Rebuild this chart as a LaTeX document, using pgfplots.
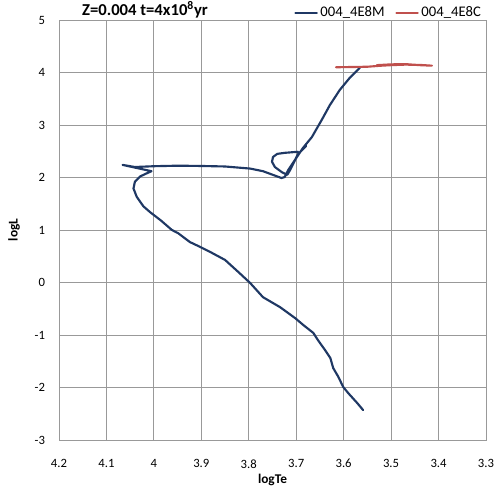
\documentclass[border=0pt]{standalone}
\usepackage{pgfplots}
\pgfplotsset{compat=1.18}
\usepackage{fontspec}
\setmainfont{Carlito}
\definecolor{navy}{HTML}{1F3864}
\definecolor{exred}{HTML}{C0504D}
\begin{document}
\begin{tikzpicture}
\useasboundingbox (-44.25pt,-38.25pt) rectangle (330.75pt,330pt);
\begin{axis}[
 scale only axis, width=320.25pt, height=315pt,
 x dir=reverse, xmin=3.3, xmax=4.2, ymin=-3, ymax=5,
 xtick={3.3,3.4,3.5,3.6,3.7,3.8,3.9,4.0,4.1,4.2},
 ytick={-3,-2,-1,0,1,2,3,4,5},
 grid=major, major grid style={color=black!40, line width=0.6pt},
 axis line style={color=black!40, line width=0.6pt},
 major tick length=0pt,
 tick label style={font=\fontsize{9.5}{11}\selectfont},
 /pgf/number format/assume math mode=true,
 xticklabel style={yshift=-11pt},
 yticklabel style={xshift=-7pt},
 xlabel={\textbf{logTe}}, ylabel={\textbf{logL}},
 xlabel style={at={(axis description cs:0.5,-0.095)}, anchor=center, font=\fontsize{10}{12}\selectfont},
 ylabel style={at={(axis description cs:-0.105,0.5)}, anchor=center, font=\fontsize{10}{12}\selectfont},
 unbounded coords=jump,
 legend style={at={(axis description cs:0.995,1.0175)}, anchor=east, draw=none, fill=none, inner sep=0pt,
   legend columns=2, font=\fontsize{11}{12}\selectfont,
   /tikz/every even column/.append style={column sep=6pt}},
 legend image code/.code={\draw[#1] (0pt,0pt) -- (16pt,0pt);},
]
\addplot[navy, line width=1.6pt, line join=round, line cap=round] coordinates {
(3.559,-2.43) (3.571,-2.30) (3.590,-2.11) (3.601,-1.99) (3.611,-1.80) (3.622,-1.63)
(3.628,-1.44) (3.639,-1.29) (3.654,-1.10) (3.664,-0.96) (3.685,-0.81) (3.702,-0.68)
(3.734,-0.47) (3.770,-0.28) (3.797,-0.01) (3.822,0.20) (3.850,0.43) (3.881,0.58)
(3.903,0.68) (3.924,0.77) (3.949,0.94) (3.962,1.00) (3.985,1.18) (4.008,1.34)
(4.022,1.45) (4.036,1.63) (4.043,1.79) (4.040,1.92) (4.029,2.02) (4.015,2.08)
(4.005,2.12) (4.066,2.24) (4.040,2.20) (4.000,2.215) (3.950,2.225) (3.903,2.22)
(3.850,2.21) (3.797,2.17) (3.770,2.12) (3.749,2.05) (3.731,1.99) (3.724,2.01)
(3.717,2.14) (3.703,2.33) (3.686,2.56) (3.667,2.77) (3.646,3.10) (3.629,3.38)
(3.608,3.67) (3.587,3.90) (3.566,4.09)
(nan,nan)
(3.679,2.60) (3.696,2.45) (3.713,2.14) (3.719,2.05) (3.730,2.10) (3.745,2.20)
(3.751,2.30) (3.749,2.39) (3.740,2.45) (3.724,2.47) (3.696,2.49)
};
\addlegendentry{004\_4E8M}
\addplot[exred, line width=1.6pt, line join=round, line cap=round] coordinates {
(3.616,4.10) (3.580,4.105) (3.550,4.11) (3.520,4.13) (3.500,4.14) (3.470,4.15)
(3.440,4.145) (3.414,4.13) (3.440,4.14) (3.470,4.16) (3.500,4.155) (3.530,4.14)
};
\addlegendentry{004\_4E8C}
\end{axis}
\node[font=\bfseries\fontsize{12.5}{14}\selectfont] at (64.5pt,322.5pt) {Z=0.004 t=4x10\textsuperscript{8}yr};
\end{tikzpicture}
\end{document}
